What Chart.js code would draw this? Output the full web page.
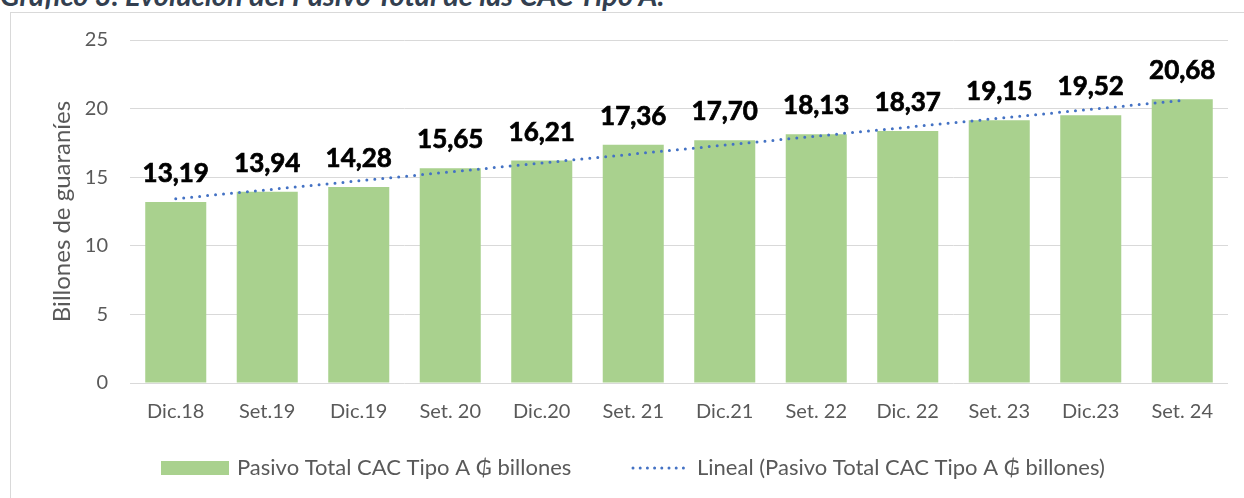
<!DOCTYPE html>
<html>
<head>
<meta charset="utf-8">
<script src="https://cdn.jsdelivr.net/npm/chart.js@4.4.1/dist/chart.umd.min.js"></script>
<style>
html, body { margin: 0; padding: 0; background: #fff; overflow: hidden; }
#titulo { position: absolute; left: 0; top: -22px; font: italic bold 29px Lato, sans-serif; line-height: 1.2; color: #333F50; white-space: nowrap; }
#marco { position: absolute; left: 10px; top: 12px; width: 1240px; height: 492px; border: 1px solid #d9d9d9; }
#wrap { position: absolute; left: 0; top: 0; width: 1244px; height: 498px; }
</style>
</head>
<body>
<div id="titulo">Gráfico 3. Evolución del Pasivo Total de las CAC Tipo A.</div>
<div id="marco"></div>
<div id="wrap"><canvas id="grafico"></canvas></div>
<script>
const categorias = ['Dic.18', 'Set.19', 'Dic.19', 'Set. 20', 'Dic.20', 'Set. 21', 'Dic.21', 'Set. 22', 'Dic. 22', 'Set. 23', 'Dic.23', 'Set. 24'];
const pasivoTotal = [13.19, 13.94, 14.28, 15.65, 16.21, 17.36, 17.70, 18.13, 18.37, 19.15, 19.52, 20.68];
const ticksY = [0, 5, 10, 15, 20, 25];
const serieNombre = 'Pasivo Total CAC Tipo A ₲ billones';
const tendenciaNombre = 'Lineal (Pasivo Total CAC Tipo A ₲ billones)';

const verde = '#A9D18E';
const azul = '#4472C4';
const gris = '#595959';
const fuente = 'Lato, "Noto Sans", sans-serif';

// linea de tendencia (minimos cuadrados sobre los datos)
function tendenciaLineal(vals) {
    const n = vals.length;
    const mx = (n - 1) / 2;
    const my = vals.reduce((a, b) => a + b, 0) / n;
    let sxy = 0, sxx = 0;
    vals.forEach((v, i) => { sxy += (i - mx) * (v - my); sxx += (i - mx) * (i - mx); });
    const m = sxy / sxx;
    return vals.map((v, i) => my + m * (i - mx));
}
const tendencia = tendenciaLineal(pasivoTotal);

const etiquetas = {
    id: 'etiquetas',
    afterDatasetsDraw(chart) {
        const ctx = chart.ctx;
        const meta = chart.getDatasetMeta(1);
        ctx.save();
        ctx.font = 'bold 26px ' + fuente;
        ctx.fillStyle = '#000';
        ctx.strokeStyle = '#000';
        ctx.lineWidth = 0.7;
        ctx.textAlign = 'center';
        ctx.textBaseline = 'alphabetic';
        meta.data.forEach((bar, i) => {
            const txt = pasivoTotal[i].toFixed(2).replace('.', ',');
            ctx.fillText(txt, bar.x, bar.y - 20);
            ctx.strokeText(txt, bar.x, bar.y - 20);
        });
        ctx.restore();
    }
};

const leyenda = {
    id: 'leyenda',
    afterDraw(chart) {
        const ctx = chart.ctx;
        const y = 468;
        ctx.save();
        ctx.font = '22px ' + fuente;
        ctx.textBaseline = 'middle';
        ctx.fillStyle = verde;
        ctx.fillRect(161, 461, 68, 14);
        ctx.fillStyle = gris;
        ctx.fillText(serieNombre, 237, y);
        ctx.strokeStyle = azul;
        ctx.lineWidth = 3;
        ctx.lineCap = 'round';
        ctx.setLineDash([0, 7.2]);
        ctx.beginPath();
        ctx.moveTo(633, y);
        ctx.lineTo(690, y);
        ctx.stroke();
        ctx.setLineDash([]);
        ctx.fillText(tendenciaNombre, 697, y);
        ctx.restore();
    }
};

new Chart(document.getElementById('grafico'), {
    data: {
        labels: categorias,
        datasets: [
            {
                type: 'line',
                label: tendenciaNombre,
                data: tendencia,
                borderColor: azul,
                borderWidth: 3,
                borderDash: [0, 8],
                borderCapStyle: 'round',
                pointRadius: 0,
                fill: false,
                order: 0
            },
            {
                type: 'bar',
                label: serieNombre,
                data: pasivoTotal,
                backgroundColor: verde,
                categoryPercentage: 1,
                barPercentage: 0.667,
                order: 1
            }
        ]
    },
    options: {
        responsive: true,
        maintainAspectRatio: false,
        animation: false,
        layout: { padding: { top: 40, right: 16, bottom: 70, left: 0 } },
        plugins: {
            legend: { display: false },
            tooltip: { enabled: false }
        },
        scales: {
            x: {
                grid: { display: false, drawTicks: false },
                border: { display: false },
                ticks: { color: gris, font: { family: fuente, size: 20 }, padding: 17, maxRotation: 0 },
                afterFit: s => { s.height = 45; }
            },
            y: {
                min: 0,
                max: 25,
                afterBuildTicks: s => { s.ticks = ticksY.map(v => ({ value: v })); },
                grid: { color: '#d9d9d9', drawTicks: false },
                border: { display: false },
                ticks: { color: gris, font: { family: fuente, size: 20 }, padding: 22 },
                title: {
                    display: true,
                    text: 'Billones de guaraníes',
                    color: gris,
                    font: { family: fuente, size: 24 },
                    padding: { top: 48, bottom: 0 }
                },
                afterFit: s => { s.width = 130; }
            }
        }
    },
    plugins: [etiquetas, leyenda]
});
</script>
</body>
</html>
